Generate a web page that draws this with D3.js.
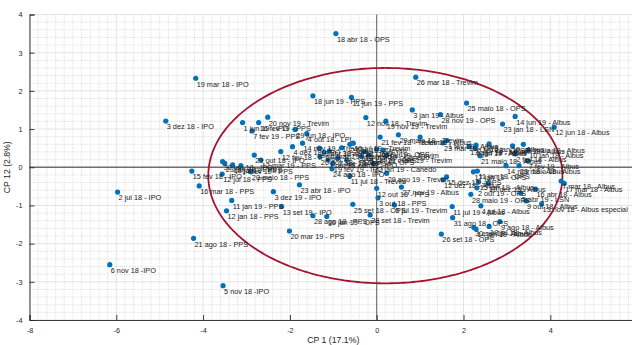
<!DOCTYPE html>
<html>
<head>
<meta charset="utf-8">
<script src="https://cdn.jsdelivr.net/npm/d3@7"></script>
<style>
  body { margin: 0; background: #fff; }
  svg { display: block; font-family: "Liberation Sans", Arial, Helvetica, sans-serif; }
</style>
</head>
<body>
<svg id="chart" width="632" height="345"></svg>
<script>
// Sample scores on the two principal components
const labels = [
  "18 abr 18 - OPS", "19 mar 18 - IPO", "3 dez 18 - IPO", "26 mar 18 - Trevim",
  "18 jun 19 - PPS", "11 jun 19 - PPS", "12 nov 18 - Trevim", "19 nov 19 - Trevim",
  "3 jan 19 - Albus", "28 nov 19 - OPS", "25 maio 18 - OPS", "14 jun 19 - Albus",
  "23 jan 18 - LSN", "12 jun 18 - Albus", "20 nov 19 - Trevim", "1 jun 19 - IPO",
  "16 fev 19 - PPS", "7 fev 19 - PPS", "29 jun 18 - IPO", "4 out 18 - LPI",
  "21 fev 18 - Trevim", "29 maio 19 - Trevim", "14 nov 19 - Trevim",
  "15 fev 18 - IPO", "16 mar 18 - PPS", "2 jul 18 - IPO", "21 ago 18 - PPS",
  "6 nov 18 -IPO", "5 nov 18 -IPO", "20 mar 19 - PPS", "11 jan 19 - PPS",
  "12 jan 18 - PPS", "13 set 19 - IPO", "3 dez 19 - IPO", "23 abr 18 - IPO",
  "20 maio 18 - PPS", "28 ago 18 - PPS", "16 jan 19 - OPS", "25 set 18 - OPS",
  "28 set 18 - Trevim", "3 out 18 - PPS", "5 jul 19 - Trevim", "12 out 18 - PPS",
  "27 nov 19 - Albus", "24 ago 18 - IPO", "11 jul 18 - Trevim", "29 ago 19 - Trevim",
  "30 jan 18 - IPO", "23 jan 19 - PPS", "18 jul 18 - PPS", "14 fev 19 - PPS",
  "12 jul 18 - PPS", "29 out 18 - IPO", "12 fev 18 - IPO", "4 dez 18 - IPO",
  "19 abr 18 - PPS", "3 out 19 - OPS", "6 mar 19 - Canedo", "30 abr 19 - IPO",
  "27 jul 18 - Trevim", "10 jul 19 - Trevim", "15 mai 19 - Canedo", "26 fev 19 - OPS",
  "21 maio 19 - Trevim", "8 out 19 - Trevim", "17 set 18 - OPS", "3 set 19 - PPS",
  "22 jan 19 - Canedo", "3 out 18 - IPO", "19 fev 19 - IPO", "2 abr 19 - PPS",
  "31 out 18 - IPO", "20 nov 18 - PPS", "12 mar 19 - PPS",
  "8 fev 18 - Albus", "23 mar 18 - OPS", "1 fev 19 - Albus", "13 ago 18 - Albus",
  "6 fev 18 - OPS", "9 jan 19 - Albus", "16 jan 19 - Albus", "4 abr 18 - Albus",
  "29 maio 18 - Albus", "2 fev 18 - Albus", "10 jan 18 - Albus", "7 fev 19 - Albus",
  "14 mar 18 - Albus", "23 maio 18 - Albus", "21 maio 18 - Albus", "7 mar 18 - Albus",
  "17 mar 18 - Albus", "16 abr 18 - Albus", "5 abr 19 - LSN", "9 out 18 - Albus",
  "13 nov 18 - Albus especial", "28 maio 19 - OPS", "2 out 19 - OPS", "11 jul 19 - Albus",
  "4 jul 18 - Albus", "31 ago 18 - OPS", "30 set 18 - Albus", "14 jan 19 - Albus",
  "18 jul 18 - Albus", "26 set 18 - OPS", "15 dez 18 - OPS", "12 dez 18 - Albus",
  "17 jan 19 - OPS", "11 jan 19 - OPS", "15 jan 19 - Albus", "10 dez 18 - Albus",
  "9 ago 18 - Albus"
];

const cp1 = [
  -0.94, -4.17, -4.86, 0.90,
  -1.47, -0.58, -0.25, 0.21,
  0.82, 1.47, 2.07, 3.19,
  2.90, 4.09, -2.51, -3.09,
  -2.72, -2.87, -1.88, -1.61,
  0.08, 0.50, -1.71,
  -4.26, -4.09, -5.97, -4.22,
  -6.15, -3.54, -2.01, -3.34,
  -3.46, -2.19, -2.38, -1.78,
  -2.90, -1.47, -1.15, -0.55,
  -0.15, 0.03, 0.41, 0.00,
  0.57, -1.03, -0.62, 0.23,
  -3.55, -3.50, -3.32, -3.13,
  -3.56, -2.82, -2.21, -1.94,
  -1.32, -1.21, -1.09, -0.81,
  -0.62, -0.54, -0.29, 0.00,
  0.23, 0.15, -0.35, -0.19,
  -0.08, -1.12, -1.01, -0.90,
  -0.69, -1.31, -2.67,
  1.00, 1.53, 1.62, 2.13,
  2.29, 2.27, 2.59, 3.13,
  3.38, 3.19, 3.49, 3.48,
  2.98, 3.28, 2.38, 4.25,
  4.32, 3.66, 3.32, 3.44,
  3.80, 2.17, 2.31, 1.74,
  2.40, 1.75, 2.24, 2.29,
  2.59, 1.49, 1.61, 1.53,
  2.23, 2.32, 2.35, 2.57,
  2.84
];

const cp12 = [
  3.50, 2.33, 1.21, 2.36,
  1.87, 1.83, 1.30, 1.21,
  1.50, 1.38, 1.68, 1.33,
  1.13, 1.05, 1.31, 1.17,
  1.17, 0.95, 0.99, 0.88,
  0.79, 0.85, 0.63,
  -0.10, -0.49, -0.65, -1.86,
  -2.55, -3.10, -1.67, -0.87,
  -1.14, -1.03, -0.64, -0.46,
  -0.12, -1.27, -1.29, -0.97,
  -1.25, -0.80, -0.99, -0.55,
  -0.52, -0.04, -0.23, -0.16,
  0.15, 0.10, 0.06, 0.04,
  -0.18, 0.32, 0.41, 0.54,
  0.50, 0.39, 0.43, 0.51,
  0.60, 0.63, 0.41, 0.48,
  0.32, 0.45, 0.28, 0.32,
  0.10, 0.19, 0.10, 0.24,
  0.19, 0.28, 0.19,
  0.79, 0.64, 0.70, 0.54,
  0.58, 0.50, 0.61, 0.56,
  0.60, 0.35, 0.45, 0.17,
  0.04, 0.04, 0.30, -0.36,
  -0.42, -0.57, -0.68, -0.88,
  -0.96, -0.71, -0.54, -1.03,
  -1.01, -1.32, -1.58, -1.62,
  -1.55, -1.75, -0.25, -0.33,
  -0.12, -0.10, -0.38, -0.42,
  -1.42
];

const xTicks = [-8, -6, -4, -2, 0, 2, 4];
const yTicks = [-4, -3, -2, -1, 0, 1, 2, 3, 4];
const xDomain = [-8, 6];
const yDomain = [-4, 4];

// Confidence ellipse of the scores
const ellipseCenter = [0.2, -0.22];
const ellipseRadii = [4.08, 2.82];

const xTitle = "CP 1 (17.1%)";
const yTitle = "CP 12 (2.8%)";

(function draw() {
  const svg = d3.select("#chart");
  const plotLeft = 29.5, plotRight = 637.1, plotTop = 14.5, plotBottom = 320;

  const x = d3.scaleLinear().domain(xDomain).range([plotLeft, plotRight]);
  const y = d3.scaleLinear().domain(yDomain).range([plotBottom, plotTop]);

  svg.append("rect").attr("width", 632).attr("height", 345).attr("fill", "#fff");

  // minor grid
  const grid = svg.append("g");
  const minorX = d3.range(xDomain[0], xDomain[1] + 1e-9, 0.2).filter(v => Math.abs(v / 2 - Math.round(v / 2)) > 1e-6);
  const minorY = d3.range(yDomain[0], yDomain[1] + 1e-9, 0.2).filter(v => Math.abs(v - Math.round(v)) > 1e-6);
  grid.selectAll("line.mx").data(minorX).join("line").attr("class", "mx")
    .attr("x1", d => x(d)).attr("x2", d => x(d)).attr("y1", plotTop).attr("y2", plotBottom)
    .attr("stroke", "#cdcdcd").attr("stroke-width", 0.7).attr("stroke-dasharray", "1,1.2");
  grid.selectAll("line.my").data(minorY).join("line").attr("class", "my")
    .attr("x1", plotLeft).attr("x2", plotRight).attr("y1", d => y(d)).attr("y2", d => y(d))
    .attr("stroke", "#cdcdcd").attr("stroke-width", 0.7).attr("stroke-dasharray", "1,1.2");
  // major grid
  const majorX = d3.range(xDomain[0], xDomain[1] + 1e-9, 2);
  grid.selectAll("line.gx").data(majorX).join("line").attr("class", "gx")
    .attr("x1", d => x(d)).attr("x2", d => x(d)).attr("y1", plotTop).attr("y2", plotBottom)
    .attr("stroke", "#dcdcdc").attr("stroke-width", 0.8);
  grid.selectAll("line.gy").data(yTicks).join("line").attr("class", "gy")
    .attr("x1", plotLeft).attr("x2", plotRight).attr("y1", d => y(d)).attr("y2", d => y(d))
    .attr("stroke", "#dcdcdc").attr("stroke-width", 0.8);

  // reference lines through the origin
  svg.append("line").attr("x1", plotLeft).attr("x2", plotRight).attr("y1", y(0)).attr("y2", y(0))
    .attr("stroke", "#6e6e6e").attr("stroke-width", 1.3);
  svg.append("line").attr("x1", x(0)).attr("x2", x(0)).attr("y1", plotTop).attr("y2", plotBottom)
    .attr("stroke", "#555").attr("stroke-width", 0.9);

  // ellipse
  const ellipsePts = d3.range(0, 2 * Math.PI + 0.001, Math.PI / 180).map(t => [
    ellipseCenter[0] + ellipseRadii[0] * Math.cos(t),
    ellipseCenter[1] + ellipseRadii[1] * Math.sin(t)
  ]);
  svg.append("path")
    .attr("d", d3.line().x(d => x(d[0])).y(d => y(d[1]))(ellipsePts))
    .attr("fill", "none").attr("stroke", "#A2142F").attr("stroke-width", 1.8);

  // points
  const pts = labels.map((l, i) => ({ label: l, x: cp1[i], y: cp12[i] }));
  svg.append("g").selectAll("circle").data(pts).join("circle")
    .attr("cx", d => x(d.x)).attr("cy", d => y(d.y)).attr("r", 2.6)
    .attr("fill", "#0072BD");

  // point labels
  svg.append("g").selectAll("text").data(pts).join("text")
    .attr("x", d => x(d.x) + 1).attr("y", d => y(d.y) + 8.3)
    .attr("font-size", 7.3).attr("fill", "#222")
    .text(d => d.label);

  // axes
  const axisColor = "#262626";
  const xAxis = d3.axisBottom(x).tickValues(xTicks).tickSize(-5).tickPadding(8);
  const yAxis = d3.axisLeft(y).tickValues(yTicks).tickSize(-5).tickPadding(7);
  const gx = svg.append("g").attr("transform", `translate(0,${plotBottom})`).call(xAxis);
  const gy = svg.append("g").attr("transform", `translate(${plotLeft},0)`).call(yAxis);
  [gx, gy].forEach(g => {
    g.select(".domain").attr("stroke", axisColor).attr("stroke-width", 0.9);
    g.selectAll(".tick line").attr("stroke", axisColor).attr("stroke-width", 0.9);
    g.selectAll(".tick text").attr("fill", axisColor).attr("font-size", 7.3)
      .attr("font-family", "Liberation Sans, Arial, sans-serif")
      .text(d => d < 0 ? "-" + Math.abs(d) : d);
  });

  // axis titles
  svg.append("text").attr("x", (plotLeft + plotRight) / 2).attr("y", 343)
    .attr("text-anchor", "middle").attr("font-size", 8.7).attr("fill", axisColor).text(xTitle);
  svg.append("text").attr("transform", `translate(10,${(plotTop + plotBottom) / 2}) rotate(-90)`)
    .attr("text-anchor", "middle").attr("font-size", 8.7).attr("fill", axisColor).text(yTitle);
})();
</script>
</body>
</html>
